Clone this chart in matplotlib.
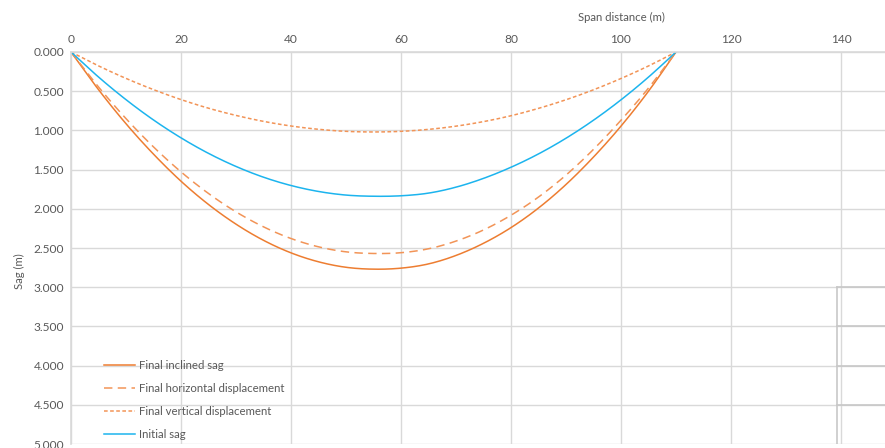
import numpy as np
import matplotlib.pyplot as plt

plt.rcParams['font.family'] = ['Lato', 'DejaVu Sans']

# Span position (m)
distancia = [0, 5, 10, 15, 20, 25, 30, 35, 40, 45, 50, 55, 60, 65, 70, 75, 80, 85, 90, 95, 100, 105, 110]

# Sag values (m)
flecha_inclinada = [0, 0.480, 0.915, 1.303, 1.648, 1.945, 2.196, 2.402, 2.562, 2.676, 2.746, 2.770,
                    2.757, 2.703, 2.595, 2.440, 2.240, 1.990, 1.690, 1.340, 0.945, 0.500, 0]
desp_horizontal = [0, 0.446, 0.850, 1.211, 1.529, 1.805, 2.039, 2.230, 2.379, 2.485, 2.549, 2.570,
                   2.560, 2.510, 2.412, 2.270, 2.082, 1.850, 1.570, 1.242, 0.870, 0.460, 0]
desp_vertical = [0, 0.177, 0.337, 0.480, 0.607, 0.717, 0.809, 0.885, 0.944, 0.986, 1.012, 1.020,
                 1.012, 0.987, 0.946, 0.888, 0.813, 0.719, 0.609, 0.482, 0.338, 0.178, 0]
flecha_inicial = [0, 0.319, 0.608, 0.867, 1.095, 1.293, 1.460, 1.597, 1.703, 1.779, 1.825, 1.840,
                  1.834, 1.800, 1.724, 1.612, 1.470, 1.300, 1.100, 0.870, 0.610, 0.320, 0]

x_ticks = [0, 20, 40, 60, 80, 100, 120, 140]
y_ticks = [0, 0.5, 1.0, 1.5, 2.0, 2.5, 3.0, 3.5, 4.0, 4.5, 5.0]

naranja = '#ED7D31'
naranja_claro = '#F29457'
azul = '#1CB4EE'
gris_texto = '#595959'
gris_grid = '#D9D9D9'


# Linea suavizada tipo Excel (Bezier entre puntos consecutivos)
def suavizar(x, y, n=12):
    p = np.column_stack([x, y]).astype(float)
    ext = np.vstack([p[0], p, p[-1]])
    t = np.linspace(0, 1, n, endpoint=False)[:, None]
    trozos = []
    for i in range(len(p) - 1):
        p0, p1, p2, p3 = ext[i], ext[i + 1], ext[i + 2], ext[i + 3]
        c1 = p1 + (p2 - p0) / 6
        c2 = p2 - (p3 - p1) / 6
        trozos.append((1 - t) ** 3 * p1 + 3 * (1 - t) ** 2 * t * c1 + 3 * (1 - t) * t ** 2 * c2 + t ** 3 * p2)
    trozos.append(p[-1:])
    curva = np.vstack(trozos)
    return curva[:, 0], curva[:, 1]


fig = plt.figure(figsize=(8.85, 4.48), dpi=100)
ax = fig.add_axes([71 / 885, 1 - 444 / 448, 814 / 885, 392 / 448])

ax.plot(*suavizar(distancia, flecha_inclinada), color=naranja, lw=1.1, label='Final inclined sag')
ax.plot(*suavizar(distancia, desp_horizontal), color=naranja_claro, lw=1.1, dashes=(5.5, 3.5),
        label='Final horizontal displacement')
ax.plot(*suavizar(distancia, desp_vertical), color=naranja_claro, lw=1.1, dashes=(2.4, 1.6),
        label='Final vertical displacement')
ax.plot(*suavizar(distancia, flecha_inicial), color=azul, lw=1.1, label='Initial sag')

ax.set_xlim(0, 148)
ax.set_ylim(5.0, 0)
ax.set_xticks(x_ticks)
ax.set_yticks(y_ticks)
ax.set_yticklabels([f'{v:.3f}' for v in y_ticks])
ax.xaxis.tick_top()
ax.tick_params(length=0, labelsize=8.6, colors=gris_texto, pad=5)

ax.grid(True, color=gris_grid, lw=1)
ax.set_axisbelow(True)
for lado in ['right', 'bottom']:
    ax.spines[lado].set_visible(False)
ax.spines['top'].set_color(gris_grid)
ax.spines['left'].set_color(gris_grid)
ax.spines['top'].set_linewidth(1.2)
ax.spines['left'].set_linewidth(1.2)

ax.set_xlabel('Span distance (m)', fontsize=8.2, color=gris_texto)
ax.xaxis.set_label_position('top')
ax.xaxis.set_label_coords(0.676, 1.08)
ax.set_ylabel('Sag (m)', fontsize=8.2, color=gris_texto)
ax.yaxis.set_label_coords(-0.057, 0.44)

# cuadro residual abajo a la derecha
x_caja = 139.3
for y in [3.0, 3.5, 4.0, 4.5]:
    ax.plot([x_caja, 148], [y, y], color='#C8C8C8', lw=1.2, clip_on=False)
ax.plot([x_caja, x_caja], [3.0, 5.0], color='#C8C8C8', lw=1.2)

leg = ax.legend(loc='lower left', bbox_to_anchor=(0.028, -0.016), frameon=False,
                fontsize=8.2, handlelength=2.7, labelspacing=1.05, handletextpad=0.4)
for t in leg.get_texts():
    t.set_color(gris_texto)

fig.savefig('out.png', dpi=100)
